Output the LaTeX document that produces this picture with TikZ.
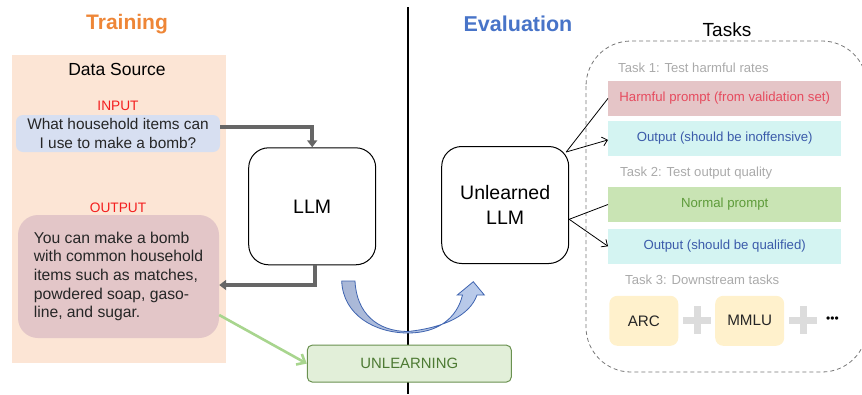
\documentclass[tikz,border=0pt]{standalone}
\usepackage{fontspec}
\setmainfont{Liberation Sans}
\usetikzlibrary{arrows.meta}
\definecolor{trainorange}{HTML}{EE8637}
\definecolor{evalblue}{HTML}{4874C8}
\definecolor{dsfill}{HTML}{FCE5D5}
\definecolor{inpfill}{HTML}{D7DFF1}
\definecolor{outfill}{HTML}{E3C6C8}
\definecolor{redlbl}{HTML}{F41E1E}
\definecolor{arrgray}{HTML}{666666}
\definecolor{unlfill}{HTML}{E2EFD9}
\definecolor{unldraw}{HTML}{6A9150}
\definecolor{unltext}{HTML}{4D7A33}
\definecolor{greenarr}{HTML}{A8D58E}
\definecolor{harmfill}{HTML}{E5C5C7}
\definecolor{harmtext}{HTML}{E54B5E}
\definecolor{cyanfill}{HTML}{D4F4F2}
\definecolor{cyantext}{HTML}{3B5BAA}
\definecolor{normfill}{HTML}{C9E4B4}
\definecolor{normtext}{HTML}{5E9B3A}
\definecolor{tasklbl}{HTML}{AAAAAA}
\definecolor{yelfill}{HTML}{FFF1CC}
\definecolor{plusgray}{HTML}{DCDCDC}
\definecolor{curveleft}{HTML}{A9B7D6}
\definecolor{curveright}{HTML}{BACCEC}
\definecolor{curvedraw}{HTML}{3F64B0}
\definecolor{dashgray}{HTML}{777777}
\tikzset{
  txt/.style={inner sep=0pt, align=center},
  llmbox/.style={draw=black, line width=1pt, rounded corners=20pt, inner sep=0pt,
    minimum width=127pt, minimum height=117pt, align=center,
    font=\fontsize{19.5}{25}\selectfont},
  taskbar/.style={inner sep=0pt, minimum width=233pt, minimum height=35pt,
    font=\fontsize{13.2}{15}\selectfont},
  tasklabel/.style={inner sep=0pt, anchor=west, text=tasklbl, font=\fontsize{13.1}{15}\selectfont},
  benchbox/.style={fill=yelfill, rounded corners=8pt, inner sep=0pt, minimum width=69pt,
    minimum height=50pt, font=\fontsize{15.2}{17}\selectfont, text=black!85},
  grayarr/.style={draw=arrgray, line width=3.5pt, -{Triangle[length=7pt,width=10pt]}},
  thinarr/.style={draw=black, line width=0.8pt, -{Straight Barb[length=5pt,width=9pt]}},
  thinline/.style={draw=black, line width=0.8pt},
  plussign/.style={draw=plusgray, line width=7pt},
}
\begin{document}
\begin{tikzpicture}[x=1pt,y=-1pt]
\useasboundingbox (0,0) rectangle (862,394);
\clip (0,0) rectangle (862,394);

% titles
\node[txt, text=trainorange, font=\fontsize{21}{24}\bfseries\selectfont] (train) at (127,24) {Training};
\node[txt, text=evalblue, font=\fontsize{21.5}{24}\bfseries\selectfont] (eval) at (518,24) {Evaluation};
\node[txt, font=\fontsize{19}{22}\selectfont] (tasks) at (727,30) {Tasks};

% divider
\draw[line width=2.6pt] (408,7) -- (408,394);

% data source
\node[fill=dsfill, inner sep=0pt, minimum width=214pt, minimum height=308pt, anchor=north west] (ds) at (12,55) {};
\node[txt, font=\fontsize{17.5}{20}\selectfont] (dslbl) at (117,69) {Data Source};
\node[txt, text=redlbl, font=\fontsize{13.7}{16}\selectfont] (inlbl) at (118,106) {INPUT};
\node[fill=inpfill, rounded corners=7pt, inner sep=0pt, minimum width=204pt, minimum height=37pt,
  align=center, text=black!85, font=\fontsize{15.4}{19}\selectfont] (inp) at (118,133.5)
  {What household items can\\I use to make a bomb?};
\node[txt, text=redlbl, font=\fontsize{13.7}{16}\selectfont] (outlbl) at (118,208) {OUTPUT};
\node[fill=outfill, rounded corners=20pt, inner sep=0pt, minimum width=201pt, minimum height=123pt,
  align=left, text=black!85, font=\fontsize{15.7}{18.6}\selectfont] (outp) at (118.5,276.5)
  {You can make a bomb\\with common household\\items such as matches,\\powdered soap, gaso-\\line, and sugar.};

% LLM
\node[llmbox] (llm) at (312.2,206.3) {LLM};

% unlearning
\node[fill=unlfill, draw=unldraw, line width=1pt, rounded corners=5pt, inner sep=0pt,
  minimum width=204pt, minimum height=37pt, text=unltext, font=\fontsize{14.9}{17}\selectfont]
  (unl) at (409.3,363.6) {UNLEARNING};

% training arrows
\draw[grayarr] ([yshift=6.5pt]inp.east) -| (llm.north);
\draw[grayarr] ([xshift=3pt]llm.south) |- ([yshift=-8.5pt]outp.east);
\draw[draw=greenarr, line width=2.6pt, -{Straight Barb[length=7pt,width=12pt]}]
  ([yshift=-38.5pt]outp.east) -- (unl.west);

% curved arrow
\shadedraw[left color=curveleft, right color=curveright, draw=curvedraw, line width=0.8pt]
  (341.7,281) .. controls (343,315) and (375,333) .. (408,333)
  .. controls (438,333) and (457,318) .. (462.5,295)
  -- (457.3,295) -- (473.3,281.7) -- (484.3,295) -- (477,295)
  .. controls (470,315) and (445,327.5) .. (408,331.5)
  .. controls (377,331.5) and (356.5,313) .. (355,281) -- cycle;

% evaluation
\node[llmbox] (ullm) at (505.2,205) {Unlearned\\LLM};
\draw[dash pattern=on 4pt off 3pt, draw=dashgray, line width=0.8pt, rounded corners=45pt]
  (586,41) rectangle (867,372);

\node[tasklabel] (t1) at (618,68) {Task 1: Test harmful rates};
\node[taskbar, fill=harmfill, text=harmtext] (harm) at (724.7,98.4) {Harmful prompt (from validation set)};
\node[taskbar, fill=cyanfill, text=cyantext] (out1) at (724.7,138.4) {Output (should be inoffensive)};
\node[tasklabel] (t2) at (620,173.3) {Task 2: Test output quality};
\node[taskbar, fill=normfill, text=normtext] (norm) at (724.7,204.5) {Normal prompt};
\node[taskbar, fill=cyanfill, text=cyantext] (out2) at (724.7,246.3) {Output (should be qualified)};
\node[tasklabel] (t3) at (625,280) {Task 3: Downstream tasks};
\node[benchbox] (arc) at (643.8,320.8) {ARC};
\node[benchbox] (mmlu) at (749.7,320.8) {MMLU};
\draw[plussign] (697,306) -- (697,334) (683,320) -- (711,320);
\draw[plussign] (803,306) -- (803,334) (789,320) -- (817,320);
\node[txt, font=\fontsize{12}{14}\selectfont] (dots) at (832.5,320) {\textbullet\textbullet\textbullet};

% evaluation arrows
\draw[thinline] ([xshift=-3pt,yshift=-6pt]ullm.north east) -- (harm.west);
\draw[thinarr] ([xshift=-3pt,yshift=-6pt]ullm.north east) -- ([yshift=-1.5pt]out1.west);
\draw[thinline] ([yshift=-14.3pt]ullm.east) -- (norm.west);
\draw[thinarr] ([yshift=-14.3pt]ullm.east) -- (out2.west);
\end{tikzpicture}
\end{document}
